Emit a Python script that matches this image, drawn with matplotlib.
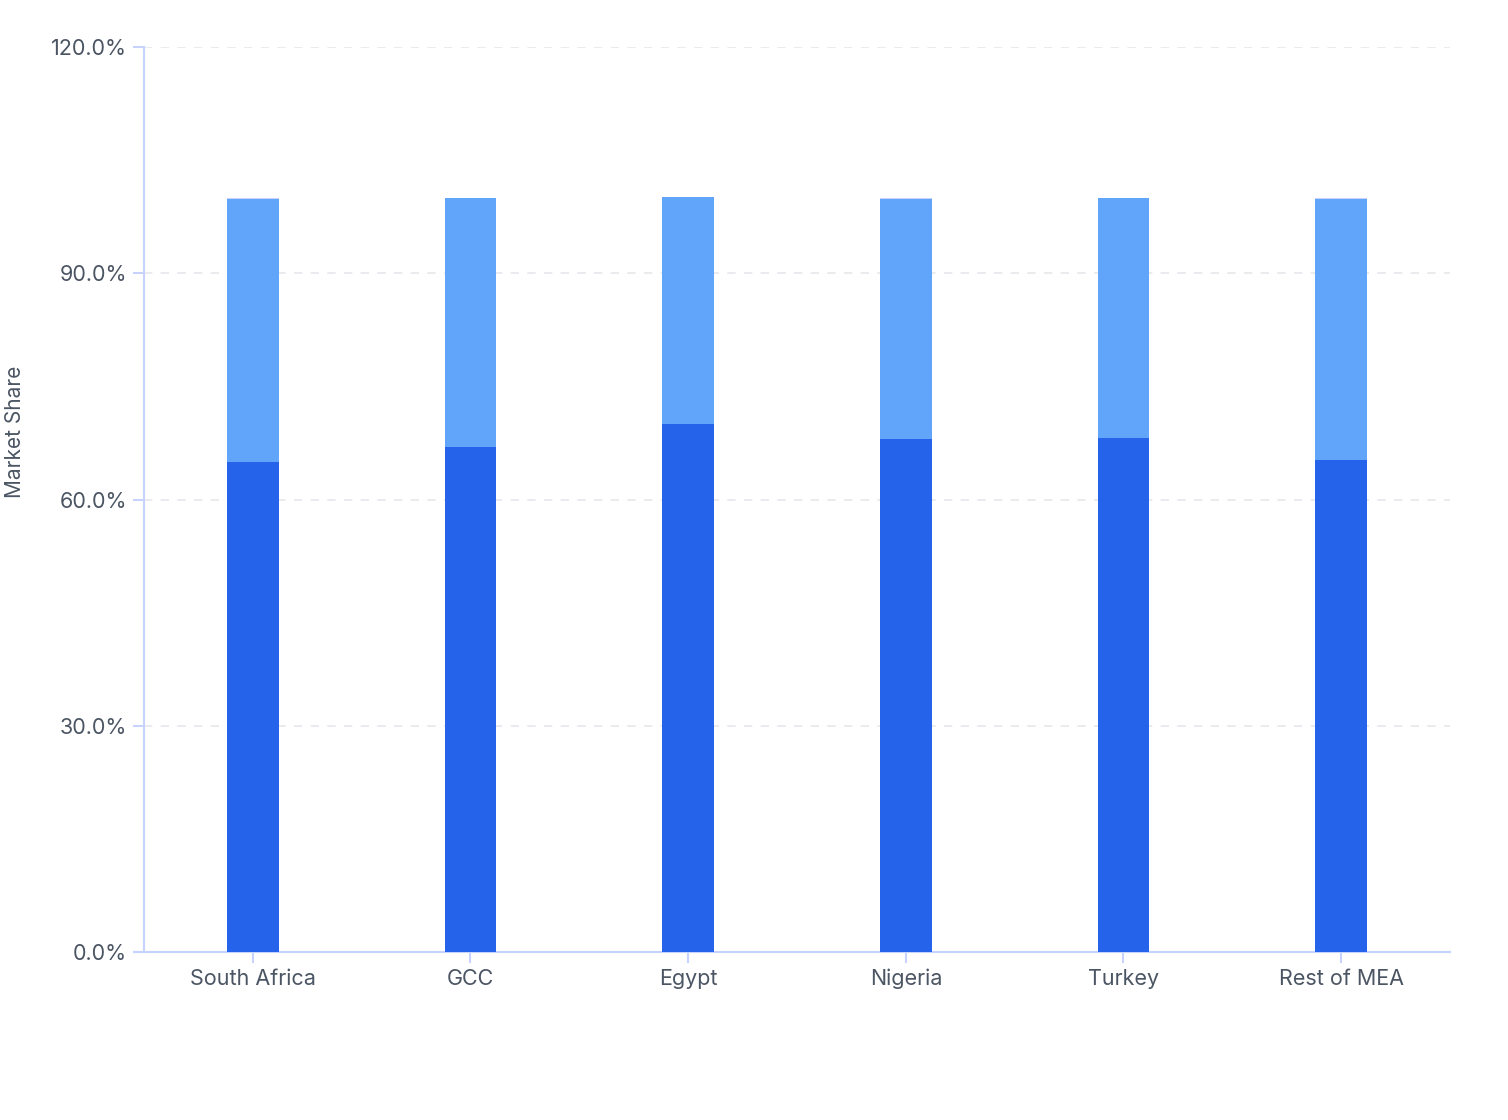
import matplotlib
matplotlib.use("Agg")
import matplotlib.pyplot as plt
from matplotlib.ticker import FuncFormatter, FixedLocator

regions = ["South Africa", "GCC", "Egypt", "Nigeria", "Turkey", "Rest of MEA"]
series_a = [65.0, 66.9, 70.0, 68.0, 68.2, 65.2]
series_b = [34.8, 33.1, 30.1, 31.8, 31.8, 34.6]
series_c = [0.2, 0.0, 0.0, 0.2, 0.0, 0.2]
y_ticks = [0, 30, 60, 90, 120]

plt.rcParams['font.family'] = ['Inter', 'DejaVu Sans']

fig = plt.figure(figsize=(15.08, 11.2), dpi=100)
ax = fig.add_axes([144/1508, 168/1120, 1306/1508, 905/1120])

x = list(range(len(regions)))
w = 0.2385
ax.bar(x, series_a, width=w, color="#2563eb", zorder=3)
ax.bar(x, series_b, width=w, bottom=series_a, color="#60a5fa", zorder=3)
bot_c = [a + b for a, b in zip(series_a, series_b)]
ax.bar(x, series_c, width=w, bottom=bot_c, color="#c7d2fe", zorder=3)

ax.set_xlim(-0.5, len(regions) - 0.5)
ax.set_ylim(0, 120)
ax.yaxis.set_major_locator(FixedLocator(y_ticks))
ax.yaxis.set_major_formatter(FuncFormatter(lambda v, p: f"{v:.1f}%"))
ax.set_xticks(x)
ax.set_xticklabels(regions)

ax.grid(axis="y", color="#e5e7eb", linestyle=(0, (5, 5)), linewidth=1.2, zorder=0)
ax.grid(axis="x", visible=False)

for s in ["top", "right"]:
    ax.spines[s].set_visible(False)
for s in ["left", "bottom"]:
    ax.spines[s].set_color("#c7d2fe")
    ax.spines[s].set_linewidth(1.5)

ax.tick_params(axis="both", colors="#c7d2fe", labelcolor="#4b5563",
               labelsize=15.5, length=8, width=1.5)
ax.tick_params(axis="y", pad=4)
ax.tick_params(axis="x", pad=4)

ax.set_ylabel("Market Share", fontsize=15, color="#4b5563", labelpad=0)
ax.yaxis.set_label_coords(-(144 - 25) / 1306, (952 - 432) / 905)

fig.savefig("out.png", dpi=100, facecolor="white")
